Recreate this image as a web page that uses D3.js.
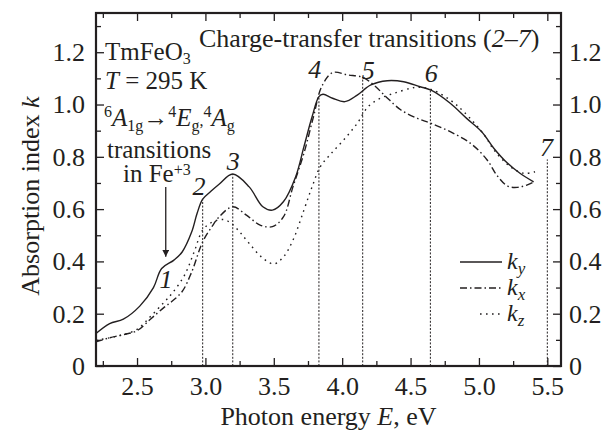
<!DOCTYPE html>
<html>
<head>
<meta charset="utf-8">
<script src="https://cdn.jsdelivr.net/npm/d3@7"></script>
<style>
  body { margin: 0; background: #fff; }
  svg text { font-family: "Liberation Serif", "Times New Roman", serif; fill: #231f20; }
  .axis path { display: none; }
  .axis line { stroke: #231f20; stroke-width: 1.3; }
</style>
</head>
<body>
<svg id="chart" width="610" height="433"></svg>
<script>
/* TmFeO3 absorption index spectra */
const energyY = [2.2, 2.3, 2.4, 2.52, 2.62, 2.68, 2.77, 2.83, 2.9, 2.94, 2.98, 3.04, 3.1, 3.2, 3.32, 3.42, 3.49, 3.57, 3.66, 3.72, 3.78, 3.83, 3.86, 3.93, 4.02, 4.11, 4.21, 4.33, 4.45, 4.57, 4.65, 4.79, 4.91, 5.02, 5.11, 5.21, 5.3, 5.4];
const ky = [0.124, 0.162, 0.179, 0.229, 0.30, 0.373, 0.405, 0.436, 0.513, 0.585, 0.638, 0.668, 0.695, 0.734, 0.685, 0.609, 0.596, 0.628, 0.724, 0.838, 0.953, 1.03, 1.039, 1.024, 1.011, 1.036, 1.075, 1.091, 1.087, 1.068, 1.055, 1.005, 0.947, 0.896, 0.832, 0.775, 0.737, 0.704];

const energyX = [2.2, 2.3, 2.4, 2.5, 2.6, 2.7, 2.75, 2.83, 2.9, 2.98, 3.05, 3.1, 3.2, 3.3, 3.4, 3.49, 3.57, 3.64, 3.72, 3.79, 3.85, 3.93, 4.04, 4.15, 4.23, 4.32, 4.43, 4.55, 4.65, 4.79, 4.94, 5.06, 5.13, 5.21, 5.28, 5.35, 5.4];
const kx = [0.092, 0.108, 0.12, 0.135, 0.18, 0.225, 0.245, 0.285, 0.36, 0.475, 0.535, 0.57, 0.609, 0.577, 0.539, 0.533, 0.57, 0.685, 0.813, 0.953, 1.068, 1.122, 1.113, 1.104, 1.075, 1.03, 0.979, 0.947, 0.928, 0.896, 0.851, 0.788, 0.73, 0.688, 0.683, 0.692, 0.704];

const energyZ = [2.2, 2.3, 2.4, 2.5, 2.6, 2.7, 2.76, 2.85, 2.92, 2.98, 3.05, 3.13, 3.19, 3.25, 3.32, 3.41, 3.5, 3.57, 3.64, 3.72, 3.78, 3.84, 3.91, 4.01, 4.11, 4.19, 4.28, 4.38, 4.5, 4.55, 4.65, 4.79, 4.89, 5.04, 5.11, 5.23, 5.33, 5.41];
const kz = [0.098, 0.108, 0.12, 0.14, 0.19, 0.245, 0.28, 0.35, 0.44, 0.52, 0.55, 0.56, 0.545, 0.513, 0.469, 0.417, 0.39, 0.417, 0.481, 0.596, 0.685, 0.762, 0.807, 0.864, 0.928, 0.992, 1.024, 1.043, 1.062, 1.066, 1.058, 1.017, 0.972, 0.883, 0.826, 0.762, 0.737, 0.743];

// transitions 2-7: energy and where the marker line stops
const transE = [2.98, 3.2, 3.83, 4.15, 4.645, 5.5];
const transTop = [0.638, 0.734, 1.03, 1.106, 1.058, 0.79];

const xTicks = [2.5, 3.0, 3.5, 4.0, 4.5, 5.0, 5.5];
const xMinor = [2.25, 2.75, 3.25, 3.75, 4.25, 4.75, 5.25];
const yTicks = [0, 0.2, 0.4, 0.6, 0.8, 1.0, 1.2];
const yMinor = [0.1, 0.3, 0.5, 0.7, 0.9, 1.1, 1.3];

const series = [
    { name: 'y', e: energyY, k: ky, dash: null, lx: 0 },
    { name: 'x', e: energyX, k: kx, dash: '7,3,1.5,3', lx: 0 },
    { name: 'z', e: energyZ, k: kz, dash: '1.6,4.4', lx: 20 },
];

const M = { left: 96, right: 49, top: 13, bottom: 67 };
const W = 610, H = 433;
const svg = d3.select('#chart');
const x = d3.scaleLinear().domain([2.2, 5.6]).range([M.left, W - M.right]);
const y = d3.scaleLinear().domain([0, 1.35]).range([H - M.bottom, M.top]);
const ink = '#231f20';

const fmt = d => d === 0 ? '0' : d3.format('.1f')(d);

// axes, ticks pointing inwards
function addAxis(gen, tr, vals, size, labels, pad) {
    const a = gen.tickValues(vals).tickSizeInner(-size).tickSizeOuter(0).tickPadding(pad)
        .tickFormat(labels ? fmt : '');
    const s = svg.append('g').attr('class', 'axis').attr('transform', tr).call(a);
    s.selectAll('text').style('font-size', '26px').style('fill', ink);
    return s;
}
const yb = H - M.bottom, xr = W - M.right;
addAxis(d3.axisBottom(x), `translate(0,${yb})`, xTicks, 8, true, 11);
addAxis(d3.axisBottom(x), `translate(0,${yb})`, xMinor, 5, false, 0);
addAxis(d3.axisTop(x), `translate(0,${M.top})`, xTicks, 8, false, 0);
addAxis(d3.axisTop(x), `translate(0,${M.top})`, xMinor, 5, false, 0);
addAxis(d3.axisLeft(y), `translate(${M.left},0)`, yTicks, 8, true, 11);
addAxis(d3.axisLeft(y), `translate(${M.left},0)`, yMinor, 5, false, 0);
addAxis(d3.axisRight(y), `translate(${xr},0)`, yTicks, 8, true, 8);
addAxis(d3.axisRight(y), `translate(${xr},0)`, yMinor, 5, false, 0);

// transition marker lines
svg.append('g').selectAll('line').data(transE).enter().append('line')
    .attr('x1', d => x(d)).attr('x2', d => x(d))
    .attr('y1', y(0)).attr('y2', (d, i) => y(transTop[i]))
    .style('stroke', ink).style('stroke-width', 1).style('stroke-dasharray', '2,1.6');

// curves
const line = d3.line().curve(d3.curveCatmullRom.alpha(0.5));
svg.append('g').selectAll('path').data(series).enter().append('path')
    .attr('d', s => line(s.e.map((e, i) => [x(e), y(s.k[i])])))
    .style('fill', 'none').style('stroke', ink).style('stroke-width', 1.4)
    .style('stroke-dasharray', s => s.dash);

// frame
svg.append('rect').attr('x', M.left).attr('y', M.top)
    .attr('width', xr - M.left).attr('height', yb - M.top)
    .style('fill', 'none').style('stroke', ink).style('stroke-width', 2.2);

// text with sub/superscripts
function rich(px, py, parts, size) {
    const t = svg.append('text').attr('x', px).attr('y', py).style('font-size', (size || 26) + 'px');
    let cur = 0;
    parts.forEach(p => {
        const sh = p.sh || 0;
        t.append('tspan').attr('dy', sh - cur)
            .style('font-style', p.it ? 'italic' : null)
            .style('font-size', p.fs ? p.fs + 'px' : null)
            .text(p.t);
        cur = sh;
    });
    return t;
}
const SUB = 5, SUP = -9, SM = 16, FS = 25;

rich(105, 60, [{ t: 'TmFeO' }, { t: '3', sh: 4, fs: SM }], FS);
rich(105, 89, [{ t: 'T', it: 1 }, { t: ' = 295 K' }], FS);
rich(104, 126, [
    { t: '6', sh: SUP, fs: SM }, { t: 'A', it: 1 }, { t: '1g', sh: SUB, fs: SM }, { t: '→' },
    { t: '4', sh: SUP, fs: SM }, { t: 'E', it: 1 }, { t: 'g', sh: SUB, fs: SM }, { t: ',', sh: 0, fs: SM },
    { t: '4', sh: SUP, fs: SM }, { t: 'A', it: 1 }, { t: 'g', sh: SUB, fs: SM },
], FS);
rich(107, 158, [{ t: 'transitions' }], FS);
rich(123, 182, [{ t: 'in Fe' }, { t: '+3', sh: -7, fs: SM }], FS);
rich(199, 47, [{ t: 'Charge-transfer transitions (' }, { t: '2–7', it: 1 }, { t: ')' }]);

// arrow to the Fe3+ shoulder
svg.append('defs').append('marker').attr('id', 'ah').attr('viewBox', '0 0 10 10')
    .attr('refX', 10).attr('refY', 5).attr('markerWidth', 7).attr('markerHeight', 7)
    .attr('markerUnits', 'userSpaceOnUse').attr('orient', 'auto')
    .append('path').attr('d', 'M0,0L10,5L0,10z').style('fill', ink);
svg.append('line').attr('x1', x(2.71)).attr('x2', x(2.71)).attr('y1', y(0.685)).attr('y2', y(0.418))
    .style('stroke', ink).style('stroke-width', 1.3).attr('marker-end', 'url(#ah)');

// transition numbers
const numLabels = [
    { t: '1', e: 2.712, k: 0.297 }, { t: '2', e: 2.954, k: 0.653 }, { t: '3', e: 3.203, k: 0.749 },
    { t: '4', e: 3.80, k: 1.101 }, { t: '5', e: 4.19, k: 1.098 }, { t: '6', e: 4.652, k: 1.086 },
    { t: '7', e: 5.494, k: 0.803 },
];
svg.append('g').selectAll('text').data(numLabels).enter().append('text')
    .attr('x', d => x(d.e)).attr('y', d => y(d.k)).attr('text-anchor', 'middle')
    .style('font-size', '26px').style('font-style', 'italic').text(d => d.t);

// legend
const lg = svg.append('g').attr('transform', 'translate(460,262)');
series.forEach((s, i) => {
    lg.append('line').attr('x1', s.lx).attr('x2', 42)
        .attr('y1', i * 26).attr('y2', i * 26)
        .style('stroke', ink).style('stroke-width', 1.4).style('stroke-dasharray', s.dash);
    const t = lg.append('text').attr('x', 47).attr('y', i * 26 + 7).style('font-size', '24px').style('font-style', 'italic');
    t.append('tspan').text('k');
    t.append('tspan').attr('dy', 5).style('font-size', '17px').text(s.name);
});

// axis titles
rich(0, 0, [{ t: 'Photon energy ' }, { t: 'E', it: 1 }, { t: ', eV' }])
    .attr('x', (M.left + xr) / 2).attr('y', 425).attr('text-anchor', 'middle');
rich(0, 0, [{ t: 'Absorption index ' }, { t: 'k', it: 1 }])
    .attr('text-anchor', 'middle').attr('transform', 'translate(39,196) rotate(-90)');
</script>
</body>
</html>
